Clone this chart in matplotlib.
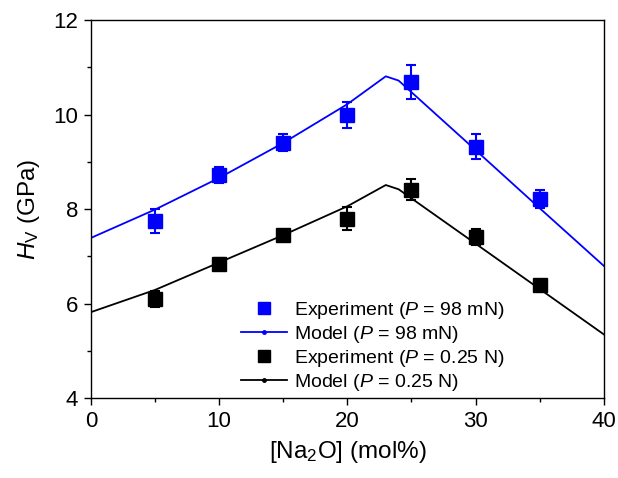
import matplotlib
matplotlib.use('Agg')
import matplotlib.pyplot as plt
from matplotlib.lines import Line2D
import numpy as np

plt.rcParams['font.family'] = ['Liberation Sans', 'DejaVu Sans']
plt.rcParams['mathtext.fontset'] = 'custom'
plt.rcParams['mathtext.rm'] = 'Liberation Sans'
plt.rcParams['mathtext.it'] = 'Liberation Sans:italic'

# experiment data
x_exp = [5, 10, 15, 20, 25, 30, 35]
h_98mN = [7.75, 8.72, 9.40, 9.99, 10.69, 9.32, 8.21]
err_98mN = [0.25, 0.17, 0.18, 0.27, 0.35, 0.26, 0.19]
h_025N = [6.09, 6.84, 7.45, 7.80, 8.41, 7.42, 6.39]
err_025N = [0.17, 0.12, 0.07, 0.24, 0.22, 0.17, 0.08]

# model curves
x_model = [0, 5, 10, 15, 20, 23, 24, 30, 35, 40]
model_98mN = [7.39, 7.99, 8.66, 9.40, 10.22, 10.81, 10.72, 9.25, 8.02, 6.80]
model_025N = [5.82, 6.29, 6.87, 7.45, 8.06, 8.51, 8.42, 7.27, 6.31, 5.35]

fig = plt.figure(figsize=(6.18, 4.78), dpi=100)
ax = fig.add_axes([0.147, 0.167, 0.830, 0.791])

ax.plot(x_model, model_98mN, '-', color='#0000ff', lw=1.3)
ax.plot(x_model, model_025N, '-', color='black', lw=1.3)
ax.errorbar(x_exp, h_98mN, yerr=err_98mN, fmt='s', color='#0000ff', ms=9.5,
            capsize=3.5, elinewidth=1.5, capthick=1.5)
ax.errorbar(x_exp, h_025N, yerr=err_025N, fmt='s', color='black', ms=9.5,
            capsize=3.5, elinewidth=1.5, capthick=1.5)

ax.set_xlim(0, 40)
ax.set_ylim(4, 12)
ax.set_xticks(np.arange(0, 41, 10))
ax.set_xticks(np.arange(5, 40, 10), minor=True)
ax.set_yticks(np.arange(4, 13, 2))
ax.set_yticks(np.arange(5, 12, 2), minor=True)
ax.tick_params(which='major', direction='out', length=5, width=1, labelsize=16, pad=4)
ax.tick_params(which='minor', direction='out', length=3, width=1)
for s in ax.spines.values():
    s.set_linewidth(1.0)

ax.set_xlabel('[Na$_2$O] (mol%)', fontsize=17.5, labelpad=5)
ax.set_ylabel('$\\mathit{H}_\\mathrm{V}$ (GPa)', fontsize=17.5, labelpad=8)

handles = [
    Line2D([], [], ls='none', marker='s', color='#0000ff', ms=9),
    Line2D([], [], ls='-', marker='o', ms=2.5, color='#0000ff', lw=1.3),
    Line2D([], [], ls='none', marker='s', color='black', ms=9),
    Line2D([], [], ls='-', marker='o', ms=2.5, color='black', lw=1.3),
]
labels = [
    'Experiment ($\\mathit{P}$ = 98 mN)',
    'Model ($\\mathit{P}$ = 98 mN)',
    'Experiment ($\\mathit{P}$ = 0.25 N)',
    'Model ($\\mathit{P}$ = 0.25 N)',
]
ax.legend(handles, labels, loc='lower left', bbox_to_anchor=(0.262, -0.027),
          frameon=False, fontsize=14, handlelength=2.4, handletextpad=0.35,
          labelspacing=0.15, borderpad=0.3)

fig.savefig('out.png', dpi=100)
